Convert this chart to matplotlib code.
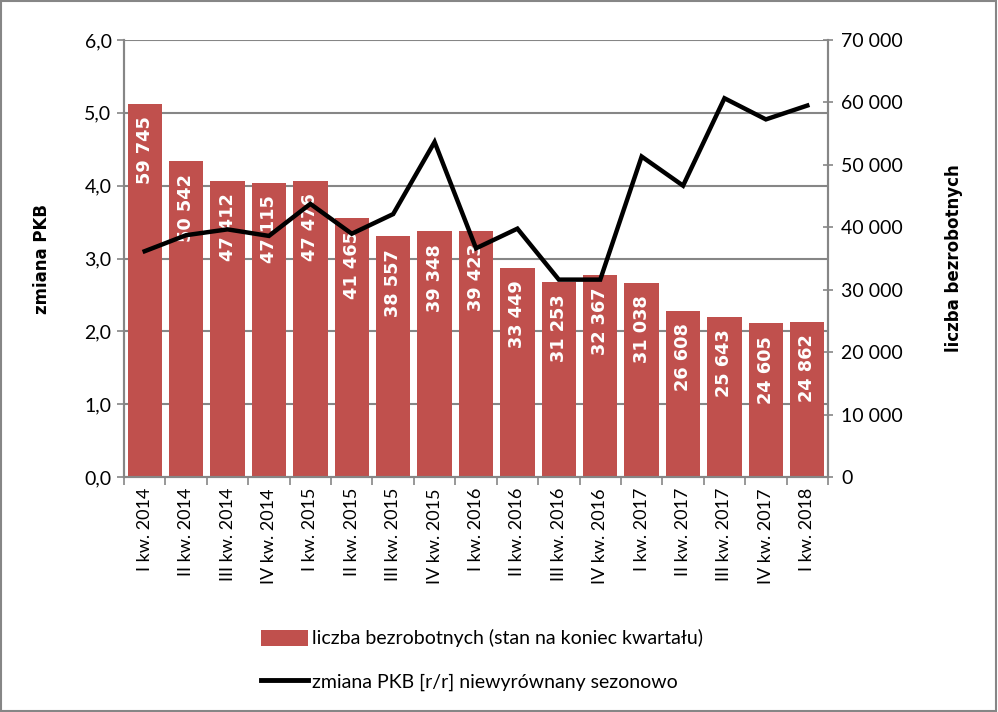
import matplotlib
matplotlib.use("Agg")
import matplotlib.pyplot as plt
from matplotlib.patches import Patch, Rectangle
from matplotlib.lines import Line2D
from matplotlib.ticker import FuncFormatter, MultipleLocator, FixedLocator
import numpy as np

categories = ["I kw. 2014", "II kw. 2014", "III kw. 2014", "IV kw. 2014",
              "I kw. 2015", "II kw. 2015", "III kw. 2015", "IV kw. 2015",
              "I kw. 2016", "II kw. 2016", "III kw. 2016", "IV kw. 2016",
              "I kw. 2017", "II kw. 2017", "III kw. 2017", "IV kw. 2017",
              "I kw. 2018"]
unemployed = [59745, 50542, 47412, 47115, 47476, 41465, 38557, 39348, 39423,
              33449, 31253, 32367, 31038, 26608, 25643, 24605, 24862]
gdp_change = [3.10, 3.32, 3.40, 3.31, 3.75, 3.34, 3.61, 4.60, 3.14,
              3.41, 2.71, 2.71, 4.40, 4.00, 5.20, 4.91, 5.10]

bar_label = "liczba bezrobotnych (stan na koniec kwartału)"
line_label = "zmiana PKB [r/r] niewyrównany sezonowo"

FONT = ["Liberation Sans Narrow", "Lato", "DejaVu Sans"]
plt.rcParams['font.family'] = FONT

grey = "#868686"
bar_color = "#C0504D"

fig = plt.figure(figsize=(9.98, 7.12), dpi=100)
axL = fig.add_axes([124/998, 1-477/712, (828-124)/998, (477-40)/712])
axR = axL.twinx()

x = np.arange(len(categories))

# bars on right axis
axR.bar(x, unemployed, width=0.83, color=bar_color, zorder=2)
axR.set_ylim(0, 70000)
axR.yaxis.set_major_locator(MultipleLocator(10000))
axR.yaxis.set_major_formatter(FuncFormatter(lambda v, p: f"{int(v):,}".replace(",", " ")))
for xi, v in zip(x, unemployed):
    axR.annotate(f"{v:,}".replace(",", " "), xy=(xi, v), xytext=(0, -9),
                 textcoords="offset points", rotation=90, ha="center", va="top",
                 color="white", fontweight="bold", fontsize=12.8,
                 family="DejaVu Sans", zorder=3)

# line on left axis (drawn above bars)
axL.set_zorder(axR.get_zorder() + 1)
axL.patch.set_visible(False)
axR.patch.set_visible(True)
axL.plot(x, gdp_change, color="black", lw=3.2, zorder=4, solid_joinstyle="miter")
axL.set_ylim(0, 6)
axL.yaxis.set_major_locator(MultipleLocator(1))
axL.yaxis.set_major_formatter(FuncFormatter(lambda v, p: f"{v:.1f}".replace(".", ",")))
axL.set_xlim(-0.5, len(categories) - 0.5)

# gridlines (left axis) behind bars -> draw on right axes background
for g in np.arange(1, 7):
    axR.axhline(g * 70000 / 6, color=grey, lw=1.5, zorder=1)

axL.set_xticks(x)
axL.set_xticklabels(categories, rotation=90, fontsize=13)
axL.xaxis.set_minor_locator(FixedLocator(np.arange(-0.5, len(categories), 1)))
axL.tick_params(axis="x", which="major", length=0, pad=8)
axL.tick_params(axis="x", which="minor", length=6, color=grey, width=1.2)
axL.tick_params(axis="y", length=5, color=grey, width=1.2, labelsize=14, pad=4)
axR.tick_params(axis="y", length=7, direction="inout", color=grey, width=1.2,
                labelsize=14, pad=6)
axR.tick_params(axis="x", length=0)

for ax in (axL, axR):
    ax.spines["top"].set_visible(False)
    for s in ("left", "right", "bottom"):
        ax.spines[s].set_color(grey)
        ax.spines[s].set_linewidth(1.5)

axL.set_ylabel("zmiana PKB", fontsize=12, fontweight="bold", family="DejaVu Sans", labelpad=24)
axR.set_ylabel("liczba bezrobotnych", fontsize=12, fontweight="bold", family="DejaVu Sans",
               labelpad=30, rotation=90)

handles = [Patch(facecolor=bar_color, edgecolor="none"),
           Line2D([0], [0], color="black", lw=3.5)]
fig.legend(handles, [bar_label, line_label], loc="center", bbox_to_anchor=(482/998, 1-660/712),
           frameon=False, fontsize=14, handlelength=2.4, handletextpad=0.2, labelspacing=1.3,
           handleheight=0.9)

fig.patches.append(Rectangle((0.001, 0.001), 0.997, 0.997, transform=fig.transFigure,
                             fill=False, edgecolor=grey, lw=1.5))

fig.savefig("out.png", dpi=100)
